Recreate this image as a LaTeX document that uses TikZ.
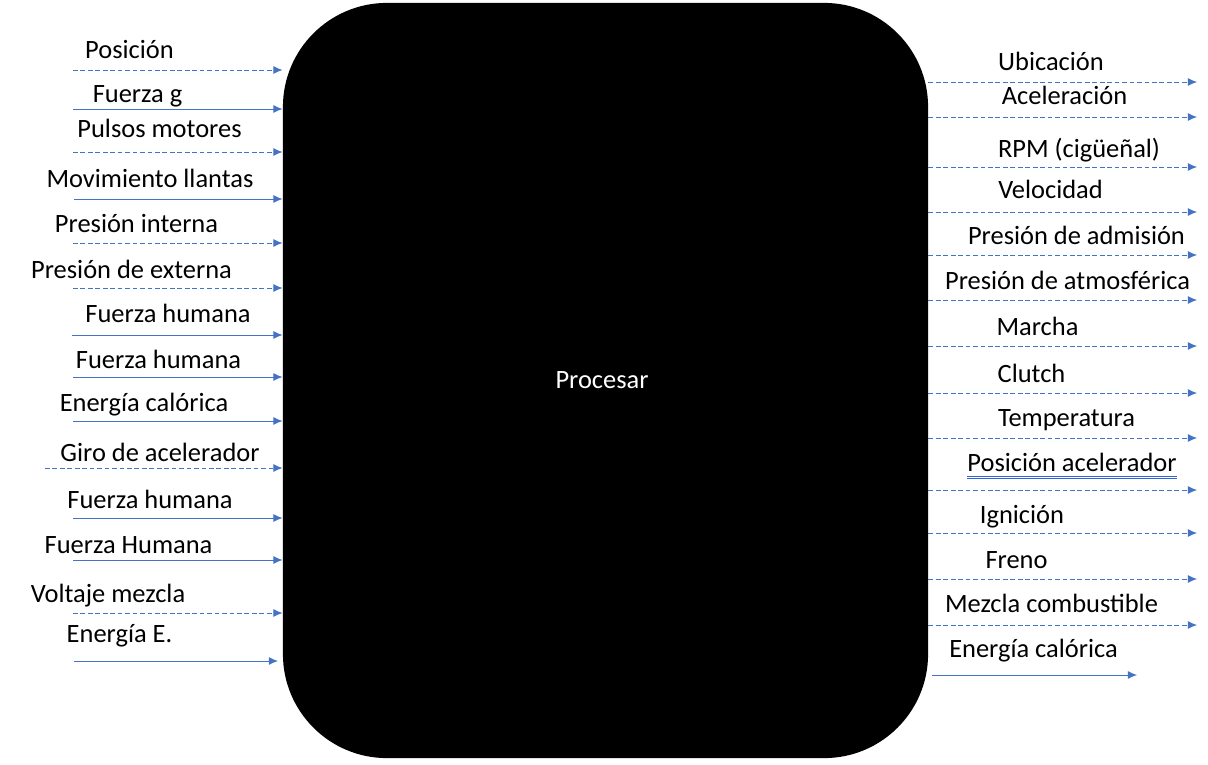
\documentclass[tikz,border=0pt]{standalone}
\usepackage{fontspec}
\setmainfont{Carlito}
\usetikzlibrary{arrows.meta, positioning, calc}

\definecolor{flowblue}{HTML}{4472C4}
\definecolor{linkblue}{HTML}{2F62D6}

\tikzset{
  flow/.style={flowblue, line width=0.7pt, -{Latex[length=0.23cm, width=0.2cm]}},
  dashflow/.style={flow, dash pattern=on 3.4pt off 1.9pt},
  lbl/.style={anchor=base, inner sep=0pt},
  uline/.style={linkblue, line width=0.6pt}
}

\begin{document}
\begin{tikzpicture}[x=0.025cm, y=-0.025cm, font=\fontsize{18.8}{22}\selectfont]
\useasboundingbox (0,0) rectangle (1208,764);

% --- Process block ---
\node[fill=black, rounded corners=2.6cm, minimum width=16.125cm, minimum height=18.875cm,
      text=white] (proc) at (605.5,380.5) {};
\node[white, lbl] (ptxt) at (602,388) {Procesar};

% --- Inputs (left) ---
\coordinate (i1) at (73,70);   \draw[dashflow] (i1) -- (i1 -| proc.west);
\node[lbl] (li1) at (129.5,58) {Posición};
\coordinate (i2) at (73,109);  \draw[flow] (i2) -- (i2 -| proc.west);
\node[lbl] (li2) at (137.5,102) {Fuerza g};
\coordinate (i3) at (73,152);  \draw[dashflow] (i3) -- (i3 -| proc.west);
\node[lbl] (li3) at (159.5,137) {Pulsos motores};
\coordinate (i4) at (74,199);  \draw[flow] (i4) -- (i4 -| proc.west);
\node[lbl] (li4) at (150,187) {Movimiento llantas};
\coordinate (i5) at (73,243);  \draw[dashflow] (i5) -- (i5 -| proc.west);
\node[lbl] (li5) at (136.5,232) {Presión interna};
\coordinate (i6) at (73,288);  \draw[dashflow] (i6) -- (i6 -| proc.west);
\node[lbl] (li6) at (131.5,278) {Presión de externa};
\coordinate (i7) at (72,335);  \draw[flow] (i7) -- (i7 -| proc.west);
\node[lbl] (li7) at (168,322) {Fuerza humana};
\coordinate (i8) at (73,377);  \draw[flow] (i8) -- (i8 -| proc.west);
\node[lbl] (li8) at (158.5,368) {Fuerza humana};
\coordinate (i9) at (73,421);  \draw[flow] (i9) -- (i9 -| proc.west);
\node[lbl] (li9) at (144,411) {Energía calórica};
\coordinate (i10) at (45,468); \draw[dashflow] (i10) -- (i10 -| proc.west);
\node[lbl] (li10) at (160,461) {Giro de acelerador};
\coordinate (i11) at (73,518); \draw[flow] (i11) -- (i11 -| proc.west);
\node[lbl] (li11) at (150,508) {Fuerza humana};
\coordinate (i12) at (73,560); \draw[flow] (i12) -- (i12 -| proc.west);
\node[lbl] (li12) at (128.5,553) {Fuerza Humana};
\coordinate (i13) at (73,613); \draw[dashflow] (i13) -- (i13 -| proc.west);
\node[lbl] (li13) at (108,602) {Voltaje mezcla};
\coordinate (i14) at (74,661); \coordinate (e14) at (278,661);
\draw[flow] (i14) -- (e14);
\node[lbl] (li14) at (119.5,642) {Energía E.};

% --- Outputs (right) ---
\coordinate (o1) at (1197,82);   \draw[dashflow] (o1 -| proc.east) -- (o1);
\node[lbl] (lo1) at (1051,70) {Ubicación};
\coordinate (o2) at (1197,117);  \draw[dashflow] (o2 -| proc.east) -- (o2);
\node[lbl] (lo2) at (1064.5,104) {Aceleración};
\coordinate (o3) at (1197,167);  \draw[dashflow] (o3 -| proc.east) -- (o3);
\node[lbl] (lo3) at (1079,157) {RPM (cigüeñal)};
\coordinate (o4) at (1197,212);  \draw[dashflow] (o4 -| proc.east) -- (o4);
\node[lbl] (lo4) at (1050.5,198) {Velocidad};
\coordinate (o5) at (1197,255);  \draw[dashflow] (o5 -| proc.east) -- (o5);
\node[lbl] (lo5) at (1076.5,244) {Presión de admisión};
\coordinate (o6) at (1197,300);  \draw[dashflow] (o6 -| proc.east) -- (o6);
\node[lbl] (lo6) at (1067.5,289) {Presión de atmosférica};
\coordinate (o7) at (1197,346);  \draw[dashflow] (o7 -| proc.east) -- (o7);
\node[lbl] (lo7) at (1037.5,335) {Marcha};
\coordinate (o8) at (1197,393);  \draw[dashflow] (o8 -| proc.east) -- (o8);
\node[lbl] (lo8) at (1031.5,382) {Clutch};
\coordinate (o9) at (1197,438);  \draw[dashflow] (o9 -| proc.east) -- (o9);
\node[lbl] (lo9) at (1066.5,426) {Temperatura};
\coordinate (o10) at (1197,490); \draw[dashflow] (o10 -| proc.east) -- (o10);
\node[lbl] (lo10) at (1072,471) {Posición acelerador};
\draw[uline] ($(lo10.base west)+(0,5)$) -- ($(lo10.base east)+(0,5)$);
\draw[uline] ($(lo10.base west)+(0,7.5)$) -- ($(lo10.base east)+(0,7.5)$);
\coordinate (o11) at (1197,533); \draw[dashflow] (o11 -| proc.east) -- (o11);
\node[lbl] (lo11) at (1022,523) {Ignición};
\coordinate (o12) at (1197,579); \draw[dashflow] (o12 -| proc.east) -- (o12);
\node[lbl] (lo12) at (1016.5,568) {Freno};
\coordinate (o13) at (1197,625); \draw[dashflow] (o13 -| proc.east) -- (o13);
\node[lbl] (lo13) at (1051.5,612) {Mezcla combustible};
\coordinate (s14) at (932,675);  \coordinate (o14) at (1137,675);
\draw[flow] (s14) -- (o14);
\node[lbl] (lo14) at (1033.5,657) {Energía calórica};

\end{tikzpicture}
\end{document}
